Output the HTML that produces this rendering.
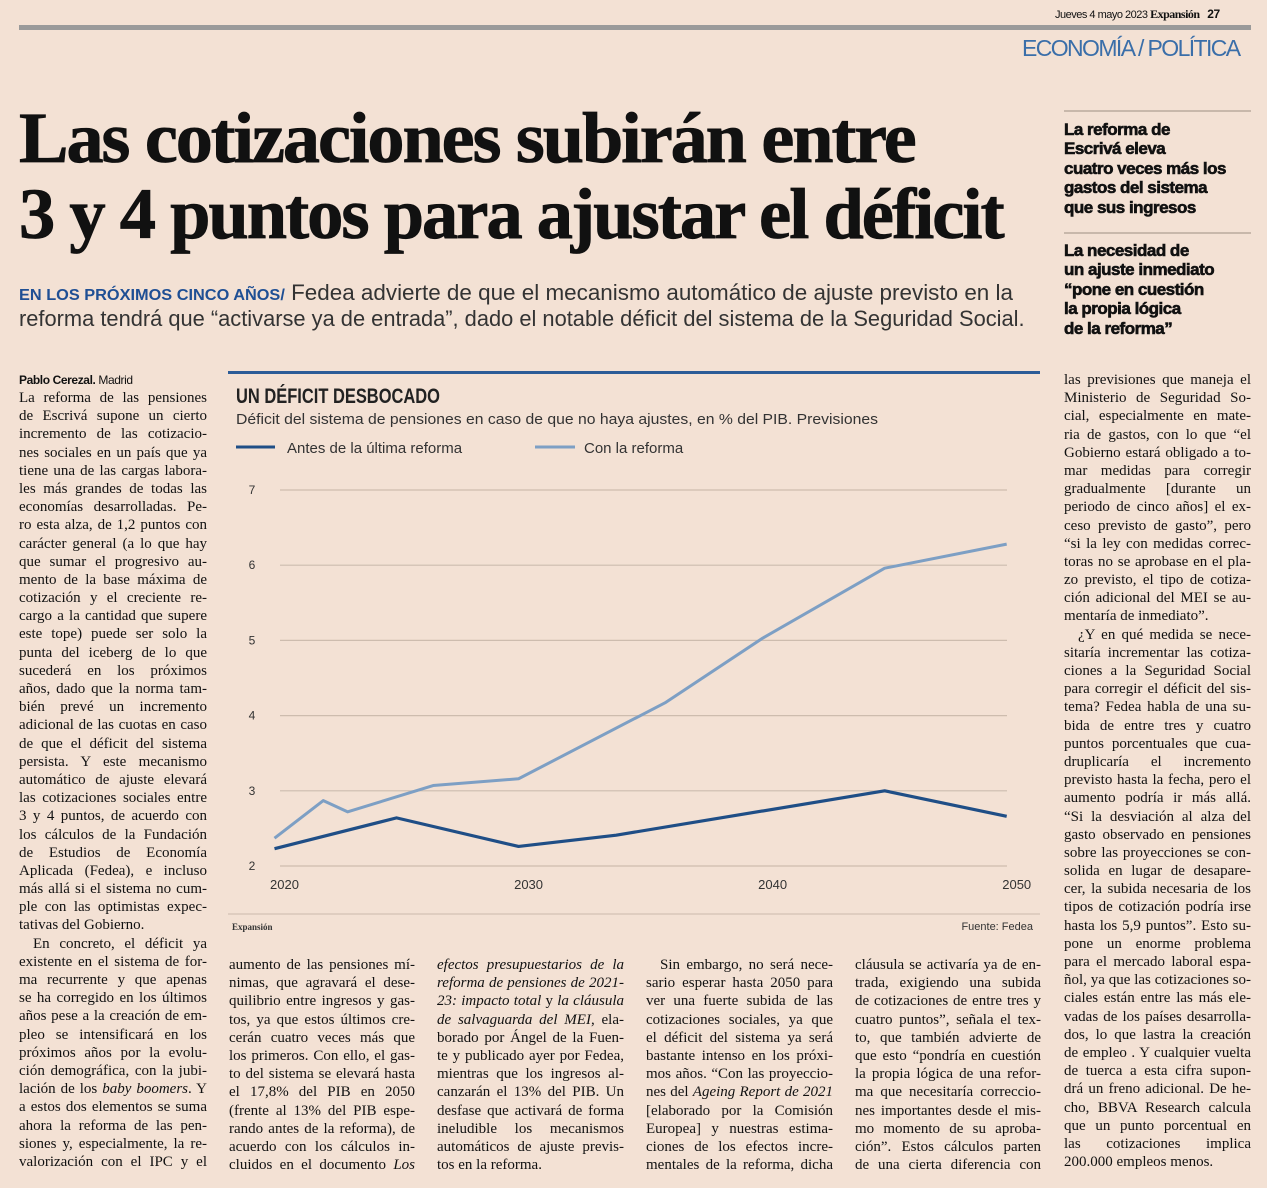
<!DOCTYPE html>
<html lang="es"><head><meta charset="utf-8"><title>Las cotizaciones subirán</title>
<style>
body{margin:0;background:#f3e1d4;width:1267px;height:1188px;overflow:hidden;position:relative;font-family:"Liberation Serif",serif;color:#111}
.abs{position:absolute}
.col{position:absolute;font-size:15px}
.l{height:18.2px;line-height:18.2px;white-space:nowrap;text-align:justify;text-align-last:justify;transform-origin:0 50%}
.l.e{text-align-last:left}
.l.i{text-indent:14px}
.sans{font-family:"Liberation Sans",sans-serif}
.fit{white-space:nowrap;transform-origin:0 50%}
.side{font-family:"Liberation Sans",sans-serif;font-weight:bold;font-size:17px;line-height:19.4px;letter-spacing:-0.5px;-webkit-text-stroke:0.6px #111;color:#111}
</style></head><body>
<div class="abs sans" style="left:1055px;top:7px;font-size:11px;letter-spacing:-0.5px">Jueves 4 mayo 2023 <b style="font-family:'Liberation Serif',serif;font-size:12px">Expansión</b> &nbsp; <b style="font-size:12px">27</b></div>
<div class="abs" style="left:19px;top:25px;width:1232px;height:5px;background:#9a9a9a"></div>
<div class="abs sans" style="left:1022px;top:35px;font-size:23px;color:#3a6ea9;letter-spacing:-1.6px">ECONOMÍA / POLÍTICA</div>

<div class="abs fit" data-w="896" style="left:19px;top:98px;font-size:72px;font-weight:bold;line-height:80px;letter-spacing:-2px;-webkit-text-stroke:0.8px #111">Las cotizaciones subirán entre</div>
<div class="abs fit" data-w="984" style="left:19px;top:174px;font-size:72px;font-weight:bold;line-height:80px;letter-spacing:-2px;-webkit-text-stroke:0.8px #111">3 y 4 puntos para ajustar el déficit</div>

<div class="abs fit sans" data-w="994" style="left:19px;top:280px;font-size:22px;line-height:26px;color:#333"><b style="color:#1f4f94;font-size:16px">EN LOS PRÓXIMOS CINCO AÑOS/</b> Fedea advierte de que el mecanismo automático de ajuste previsto en la</div>
<div class="abs fit sans" data-w="1006" style="left:19px;top:306px;font-size:22px;line-height:26px;color:#333">reforma tendrá que “activarse ya de entrada”, dado el notable déficit del sistema de la Seguridad Social.</div>

<div class="abs" style="left:1064px;top:110px;width:187px;height:2px;background:#c8b8ab"></div>
<div class="abs side" style="left:1064px;top:120px">La reforma de<br>Escrivá eleva<br>cuatro veces más los<br>gastos del sistema<br>que sus ingresos</div>
<div class="abs" style="left:1064px;top:232px;width:187px;height:2px;background:#c8b8ab"></div>
<div class="abs side" style="left:1064px;top:241px">La necesidad de<br>un ajuste inmediato<br>“pone en cuestión<br>la propia lógica<br>de la reforma”</div>

<div class="abs sans" style="left:19px;top:373px;font-size:12px;letter-spacing:-0.4px"><b>Pablo Cerezal.</b> Madrid</div>

<div class="col" style="left:19px;top:389px;width:188px">
<div class="l">La reforma de las pensiones</div>
<div class="l">de Escrivá supone un cierto</div>
<div class="l">incremento de las cotizacio-</div>
<div class="l">nes sociales en un país que ya</div>
<div class="l">tiene una de las cargas labora-</div>
<div class="l">les más grandes de todas las</div>
<div class="l">economías desarrolladas. Pe-</div>
<div class="l">ro esta alza, de 1,2 puntos con</div>
<div class="l">carácter general (a lo que hay</div>
<div class="l">que sumar el progresivo au-</div>
<div class="l">mento de la base máxima de</div>
<div class="l">cotización y el creciente re-</div>
<div class="l">cargo a la cantidad que supere</div>
<div class="l">este tope) puede ser solo la</div>
<div class="l">punta del iceberg de lo que</div>
<div class="l">sucederá en los próximos</div>
<div class="l">años, dado que la norma tam-</div>
<div class="l">bién prevé un incremento</div>
<div class="l">adicional de las cuotas en caso</div>
<div class="l">de que el déficit del sistema</div>
<div class="l">persista. Y este mecanismo</div>
<div class="l">automático de ajuste elevará</div>
<div class="l">las cotizaciones sociales entre</div>
<div class="l">3 y 4 puntos, de acuerdo con</div>
<div class="l">los cálculos de la Fundación</div>
<div class="l">de Estudios de Economía</div>
<div class="l">Aplicada (Fedea), e incluso</div>
<div class="l">más allá si el sistema no cum-</div>
<div class="l">ple con las optimistas expec-</div>
<div class="l e">tativas del Gobierno.</div>
<div class="l i">En concreto, el déficit ya</div>
<div class="l">existente en el sistema de for-</div>
<div class="l">ma recurrente y que apenas</div>
<div class="l">se ha corregido en los últimos</div>
<div class="l">años pese a la creación de em-</div>
<div class="l">pleo se intensificará en los</div>
<div class="l">próximos años por la evolu-</div>
<div class="l">ción demográfica, con la jubi-</div>
<div class="l">lación de los <i>baby boomers</i>. Y</div>
<div class="l">a estos dos elementos se suma</div>
<div class="l">ahora la reforma de las pen-</div>
<div class="l">siones y, especialmente, la re-</div>
<div class="l">valorización con el IPC y el</div>
</div>

<div class="col" style="left:229px;top:956px;width:186px">
<div class="l">aumento de las pensiones mí-</div>
<div class="l">nimas, que agravará el dese-</div>
<div class="l">quilibrio entre ingresos y gas-</div>
<div class="l">tos, ya que estos últimos cre-</div>
<div class="l">cerán cuatro veces más que</div>
<div class="l">los primeros. Con ello, el gas-</div>
<div class="l">to del sistema se elevará hasta</div>
<div class="l">el 17,8% del PIB en 2050</div>
<div class="l">(frente al 13% del PIB espe-</div>
<div class="l">rando antes de la reforma), de</div>
<div class="l">acuerdo con los cálculos in-</div>
<div class="l">cluidos en el documento <i>Los</i></div>
</div>

<div class="col" style="left:437px;top:956px;width:187px">
<div class="l"><i>efectos presupuestarios de la</i></div>
<div class="l"><i>reforma de pensiones de 2021-</i></div>
<div class="l"><i>23: impacto total</i> y <i>la cláusula</i></div>
<div class="l"><i>de salvaguarda del MEI</i>, ela-</div>
<div class="l">borado por Ángel de la Fuen-</div>
<div class="l">te y publicado ayer por Fedea,</div>
<div class="l">mientras que los ingresos al-</div>
<div class="l">canzarán el 13% del PIB. Un</div>
<div class="l">desfase que activará de forma</div>
<div class="l">ineludible los mecanismos</div>
<div class="l">automáticos de ajuste previs-</div>
<div class="l e">tos en la reforma.</div>
</div>

<div class="col" style="left:646px;top:956px;width:187px">
<div class="l i">Sin embargo, no será nece-</div>
<div class="l">sario esperar hasta 2050 para</div>
<div class="l">ver una fuerte subida de las</div>
<div class="l">cotizaciones sociales, ya que</div>
<div class="l">el déficit del sistema ya será</div>
<div class="l">bastante intenso en los próxi-</div>
<div class="l">mos años. “Con las proyeccio-</div>
<div class="l">nes del <i>Ageing Report de 2021</i></div>
<div class="l">[elaborado por la Comisión</div>
<div class="l">Europea] y nuestras estima-</div>
<div class="l">ciones de los efectos incre-</div>
<div class="l">mentales de la reforma, dicha</div>
</div>

<div class="col" style="left:855px;top:956px;width:186px">
<div class="l">cláusula se activaría ya de en-</div>
<div class="l">trada, exigiendo una subida</div>
<div class="l">de cotizaciones de entre tres y</div>
<div class="l">cuatro puntos”, señala el tex-</div>
<div class="l">to, que también advierte de</div>
<div class="l">que esto “pondría en cuestión</div>
<div class="l">la propia lógica de una refor-</div>
<div class="l">ma que necesitaría correccio-</div>
<div class="l">nes importantes desde el mis-</div>
<div class="l">mo momento de su aproba-</div>
<div class="l">ción”. Estos cálculos parten</div>
<div class="l">de una cierta diferencia con</div>
</div>

<div class="col" style="left:1064px;top:371px;width:187px">
<div class="l">las previsiones que maneja el</div>
<div class="l">Ministerio de Seguridad So-</div>
<div class="l">cial, especialmente en mate-</div>
<div class="l">ria de gastos, con lo que “el</div>
<div class="l">Gobierno estará obligado a to-</div>
<div class="l">mar medidas para corregir</div>
<div class="l">gradualmente [durante un</div>
<div class="l">periodo de cinco años] el ex-</div>
<div class="l">ceso previsto de gasto”, pero</div>
<div class="l">“si la ley con medidas correc-</div>
<div class="l">toras no se aprobase en el pla-</div>
<div class="l">zo previsto, el tipo de cotiza-</div>
<div class="l">ción adicional del MEI se au-</div>
<div class="l e">mentaría de inmediato”.</div>
<div class="l i">¿Y en qué medida se nece-</div>
<div class="l">sitaría incrementar las cotiza-</div>
<div class="l">ciones a la Seguridad Social</div>
<div class="l">para corregir el déficit del sis-</div>
<div class="l">tema? Fedea habla de una su-</div>
<div class="l">bida de entre tres y cuatro</div>
<div class="l">puntos porcentuales que cua-</div>
<div class="l">druplicaría el incremento</div>
<div class="l">previsto hasta la fecha, pero el</div>
<div class="l">aumento podría ir más allá.</div>
<div class="l">“Si la desviación al alza del</div>
<div class="l">gasto observado en pensiones</div>
<div class="l">sobre las proyecciones se con-</div>
<div class="l">solida en lugar de desapare-</div>
<div class="l">cer, la subida necesaria de los</div>
<div class="l">tipos de cotización podría irse</div>
<div class="l">hasta los 5,9 puntos”. Esto su-</div>
<div class="l">pone un enorme problema</div>
<div class="l">para el mercado laboral espa-</div>
<div class="l">ñol, ya que las cotizaciones so-</div>
<div class="l">ciales están entre las más ele-</div>
<div class="l">vadas de los países desarrolla-</div>
<div class="l">dos, lo que lastra la creación</div>
<div class="l">de empleo . Y cualquier vuelta</div>
<div class="l">de tuerca a esta cifra supon-</div>
<div class="l">drá un freno adicional. De he-</div>
<div class="l">cho, BBVA Research calcula</div>
<div class="l">que un punto porcentual en</div>
<div class="l">las cotizaciones implica</div>
<div class="l e">200.000 empleos menos.</div>
</div>

<svg class="abs" style="left:0;top:0" width="1267" height="1188" id="chart">
<rect x="228" y="371" width="812" height="3" fill="#2c5c97"/>
<text x="236" y="403" font-family="Liberation Sans, sans-serif" font-weight="bold" font-size="21" fill="#222" textLength="204" lengthAdjust="spacingAndGlyphs">UN DÉFICIT DESBOCADO</text>
<text x="236" y="424" font-family="Liberation Sans, sans-serif" font-size="15" fill="#333" textLength="642" lengthAdjust="spacingAndGlyphs">Déficit del sistema de pensiones en caso de que no haya ajustes, en % del PIB. Previsiones</text>
<line x1="236" y1="447" x2="275" y2="447" stroke="#1f4e86" stroke-width="3"/>
<text x="287" y="453" font-family="Liberation Sans, sans-serif" font-size="15" fill="#333">Antes de la última reforma</text>
<line x1="535" y1="447" x2="575" y2="447" stroke="#7d9fc4" stroke-width="3"/>
<text x="584" y="453" font-family="Liberation Sans, sans-serif" font-size="15" fill="#333">Con la reforma</text>
<g id="grid"></g><g id="series"></g>
<line x1="228" y1="914" x2="1040" y2="914" stroke="#cbb9ab" stroke-width="1"/>
<text x="232" y="930" font-family="Liberation Serif, serif" font-weight="bold" font-size="9" fill="#333">Expansión</text>
<text x="1033" y="930" text-anchor="end" font-family="Liberation Sans, sans-serif" font-size="11" fill="#333">Fuente: Fedea</text>
</svg>

<script>
const yTicks = [2, 3, 4, 5, 6, 7];
const xTicks = [2020, 2030, 2040, 2050];
const beforeYears = [2020, 2025, 2030, 2034, 2045, 2050];
const beforeValues = [2.23, 2.64, 2.26, 2.41, 3.0, 2.66];
const withYears = [2020, 2022, 2023, 2026.5, 2030, 2036, 2040, 2045, 2050];
const withValues = [2.37, 2.87, 2.72, 3.07, 3.16, 4.17, 5.03, 5.96, 6.28];

const NS = 'http://www.w3.org/2000/svg';
const X0 = 274.5, X1 = 1006.7, Y2 = 866, PXU = 75.2;
function xs(yr){ return X0 + (yr - 2020) * (X1 - X0) / 30; }
function ys(v){ return Y2 - (v - 2) * PXU; }
const grid = document.getElementById('grid');
yTicks.forEach(function(t){
  const ln = document.createElementNS(NS, 'line');
  
  
  ln.setAttribute('x1', 280); ln.setAttribute('x2', 1007);
  ln.setAttribute('y1', ys(t)); ln.setAttribute('y2', ys(t));
  ln.setAttribute('stroke', '#cdbcae'); ln.setAttribute('stroke-width', '1.2');
  grid.appendChild(ln);
  const tx = document.createElementNS(NS, 'text');
  
  
  tx.setAttribute('x', 252); tx.setAttribute('y', ys(t) + 4);
  tx.setAttribute('text-anchor', 'middle');
  tx.setAttribute('font-family', 'Liberation Sans, sans-serif');
  tx.setAttribute('font-size', '12'); tx.setAttribute('fill', '#333');
  tx.textContent = t;
  grid.appendChild(tx);
});
xTicks.forEach(function(t){
  const tx = document.createElementNS(NS, 'text');
  
  
  tx.setAttribute('x', xs(t) + 10); tx.setAttribute('y', 889);
  tx.setAttribute('text-anchor', 'middle');
  tx.setAttribute('font-family', 'Liberation Sans, sans-serif');
  tx.setAttribute('font-size', '13'); tx.setAttribute('fill', '#333');
  tx.textContent = t;
  grid.appendChild(tx);
});
const series = document.getElementById('series');
function drawLine(years, vals, color, w, name){
  const p = document.createElementNS(NS, 'polyline');
  
  
  p.setAttribute('points', years.map(function(yr, i){ return xs(yr) + ',' + ys(vals[i]); }).join(' '));
  p.setAttribute('fill', 'none'); p.setAttribute('stroke', color);
  p.setAttribute('stroke-width', w); p.setAttribute('stroke-linejoin', 'round');
  series.appendChild(p);
}
drawLine(withYears, withValues, '#7d9fc4', 3, 'line-with-reform');
drawLine(beforeYears, beforeValues, '#1f4e86', 3.2, 'line-before-reform');

document.querySelectorAll('.l').forEach(function(d){
  const W = d.parentElement.clientWidth;
  d.style.display = 'inline-block'; d.style.width = 'auto';
  const nat = d.scrollWidth;
  d.style.display = 'block';
  if (nat > W) { d.style.width = nat + 'px'; d.style.transform = 'scaleX(' + (W / nat) + ')'; }
  else { d.style.width = W + 'px'; }
});
document.querySelectorAll('.fit').forEach(function(d){
  const W = +d.getAttribute('data-w');
  d.style.display = 'inline-block';
  const nat = d.scrollWidth;
  d.style.transform = 'scaleX(' + (W / nat) + ')';
});
</script>
</body></html>
